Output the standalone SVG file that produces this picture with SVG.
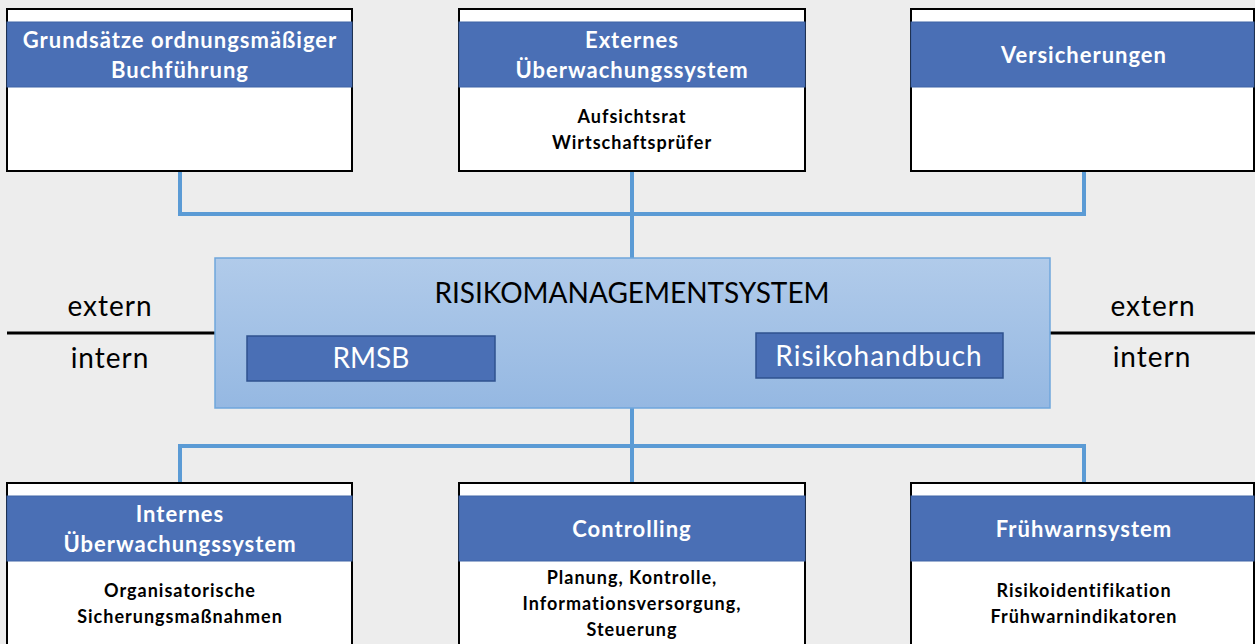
<svg xmlns="http://www.w3.org/2000/svg" width="1255" height="644" viewBox="0 0 1255 644">
<defs>
<linearGradient id="gc" x1="0" y1="0" x2="0" y2="1">
<stop offset="0" stop-color="#b1cbea"/>
<stop offset="1" stop-color="#95b8e2"/>
</linearGradient>
</defs>
<style>
.box{fill:#ffffff;stroke:#000000;stroke-width:2}
.hdr{fill:#4a6fb5;stroke:#3e64a6;stroke-width:1}
.ht{font-family:Lato,"Liberation Sans",sans-serif;font-weight:bold;font-size:22px;letter-spacing:1px;fill:#ffffff;text-anchor:middle}
.bt{font-family:Lato,"Liberation Sans",sans-serif;font-weight:bold;font-size:18px;letter-spacing:1px;fill:#000000;text-anchor:middle}
.con{fill:none;stroke:#5b9bd5;stroke-width:4}
.sep{stroke:#000000;stroke-width:3}
.lbl{font-family:Lato,"Liberation Sans",sans-serif;font-size:28px;fill:#000000;text-anchor:middle}
.sp{letter-spacing:1px}
.inner{fill:#4a6fb5;stroke:#2f528f;stroke-width:1.5}
.it{font-family:Lato,"Liberation Sans",sans-serif;font-size:28px;fill:#ffffff;text-anchor:middle}
</style>
<rect width="1255" height="644" fill="#ededed"/>
<g id="connectors">
<polyline class="con" points="180,171 180,214 1084,214 1084,171"/>
<line class="con" x1="632" y1="171" x2="632" y2="258"/>
<polyline class="con" points="180,483 180,446 1084,446 1084,483"/>
<line class="con" x1="632" y1="408" x2="632" y2="483"/>
<line class="sep" x1="7" y1="333" x2="215" y2="333"/>
<line class="sep" x1="1050" y1="333" x2="1255" y2="333"/>
</g>
<g id="labels">
<text class="lbl sp" x="110" y="316">extern</text>
<text class="lbl sp" x="110" y="368">intern</text>
<text class="lbl sp" x="1153" y="316">extern</text>
<text class="lbl sp" x="1152" y="367">intern</text>
</g>
<g id="node-gob">
<rect class="box" x="7" y="9" width="345" height="162"/>
<rect class="hdr" x="7" y="22" width="345" height="65"/>
<text class="ht" x="180" y="48">Grundsätze ordnungsmäßiger</text>
<text class="ht" x="180" y="78">Buchführung</text>
</g>
<g id="node-extern">
<rect class="box" x="459" y="9" width="346" height="162"/>
<rect class="hdr" x="459" y="22" width="346" height="65"/>
<text class="ht" x="632" y="48">Externes</text>
<text class="ht" x="632" y="78">Überwachungssystem</text>
<text class="bt" x="632" y="123">Aufsichtsrat</text>
<text class="bt" x="632" y="149">Wirtschaftsprüfer</text>
</g>
<g id="node-vers">
<rect class="box" x="911" y="9" width="343" height="162"/>
<rect class="hdr" x="911" y="22" width="343" height="65"/>
<text class="ht" x="1084" y="63">Versicherungen</text>
</g>
<g id="node-rms">
<rect x="215" y="258" width="835" height="150" fill="url(#gc)" stroke="#6fa6dc" stroke-width="1.5"/>
<text class="lbl" x="632" y="303">RISIKOMANAGEMENTSYSTEM</text>
<rect class="inner" x="247" y="336" width="248" height="45"/>
<text class="it" x="371" y="368">RMSB</text>
<rect class="inner" x="756" y="333" width="247" height="45"/>
<text class="it sp" x="879" y="366">Risikohandbuch</text>
</g>
<g id="node-intern">
<rect class="box" x="7" y="483" width="345" height="162"/>
<rect class="hdr" x="7" y="496" width="345" height="65"/>
<text class="ht" x="180" y="522">Internes</text>
<text class="ht" x="180" y="552">Überwachungssystem</text>
<text class="bt" x="180" y="597">Organisatorische</text>
<text class="bt" x="180" y="623">Sicherungsmaßnahmen</text>
</g>
<g id="node-controlling">
<rect class="box" x="459" y="483" width="346" height="162"/>
<rect class="hdr" x="459" y="496" width="346" height="65"/>
<text class="ht" x="632" y="537">Controlling</text>
<text class="bt" x="632" y="584">Planung, Kontrolle,</text>
<text class="bt" x="632" y="610">Informationsversorgung,</text>
<text class="bt" x="632" y="636">Steuerung</text>
</g>
<g id="node-fruehwarn">
<rect class="box" x="911" y="483" width="343" height="162"/>
<rect class="hdr" x="911" y="496" width="343" height="65"/>
<text class="ht" x="1084" y="537">Frühwarnsystem</text>
<text class="bt" x="1084" y="597">Risikoidentifikation</text>
<text class="bt" x="1084" y="623">Frühwarnindikatoren</text>
</g>
</svg>
